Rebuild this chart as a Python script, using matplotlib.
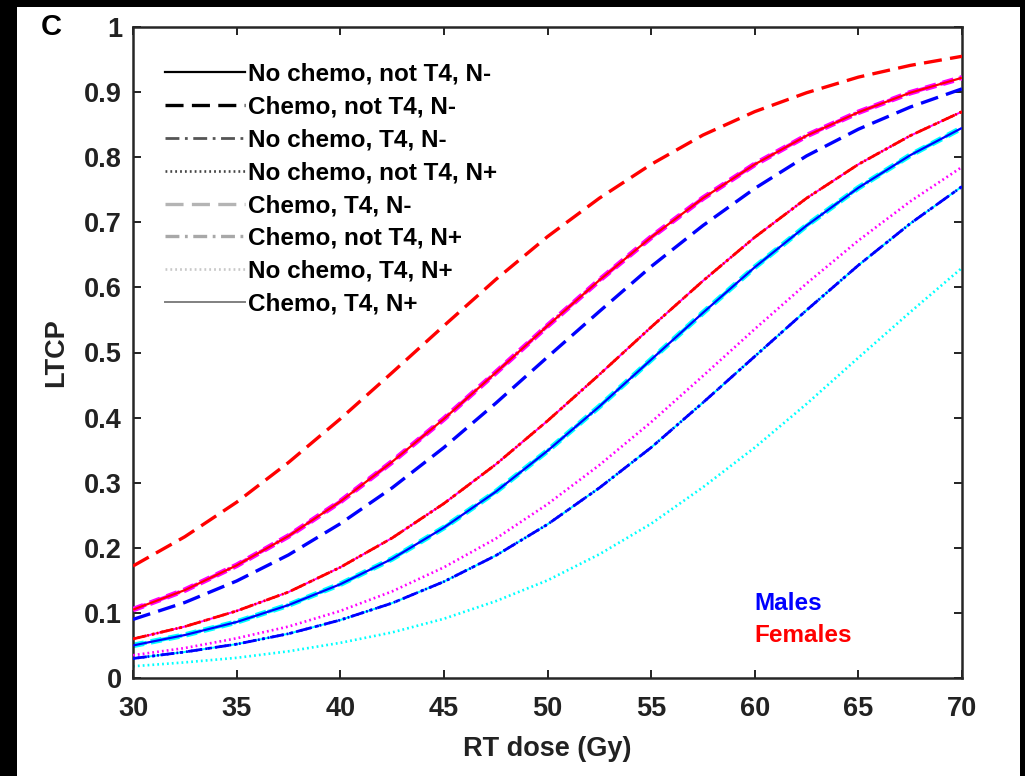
import matplotlib
matplotlib.use('Agg')
import matplotlib.pyplot as plt
from matplotlib.lines import Line2D
from matplotlib.patches import Rectangle

plt.rcParams['font.family'] = ['Liberation Sans', 'DejaVu Sans']
plt.rcParams['font.weight'] = 'bold'
plt.rcParams['lines.scale_dashes'] = False

# RT dose grid (Gy)
dose = [30, 32.5, 35, 37.5, 40, 42.5, 45, 47.5, 50, 52.5, 55, 57.5, 60, 62.5, 65, 67.5, 70]

# LTCP values, one list per visible curve
f_chemo = [0.172, 0.217, 0.270, 0.331, 0.398, 0.469, 0.541, 0.612, 0.678, 0.737, 0.789,
           0.834, 0.870, 0.899, 0.923, 0.941, 0.955]
f_base = [0.105, 0.135, 0.173, 0.218, 0.271, 0.332, 0.398, 0.469, 0.541, 0.611, 0.677,
          0.737, 0.789, 0.833, 0.869, 0.899, 0.922]
m_chemo = [0.090, 0.116, 0.149, 0.189, 0.237, 0.292, 0.354, 0.422, 0.493, 0.563, 0.632,
           0.695, 0.752, 0.802, 0.843, 0.877, 0.905]
f_mid = [0.060, 0.079, 0.103, 0.132, 0.170, 0.215, 0.268, 0.328, 0.395, 0.466, 0.539,
         0.610, 0.677, 0.737, 0.789, 0.833, 0.870]
m_base = [0.050, 0.066, 0.086, 0.112, 0.144, 0.183, 0.231, 0.286, 0.349, 0.417, 0.489,
          0.561, 0.631, 0.695, 0.753, 0.803, 0.845]
f_t4_np = [0.035, 0.046, 0.061, 0.079, 0.103, 0.133, 0.170, 0.214, 0.267, 0.327, 0.393,
           0.464, 0.536, 0.606, 0.672, 0.732, 0.785]
m_mid = [0.030, 0.040, 0.052, 0.068, 0.089, 0.115, 0.148, 0.188, 0.236, 0.292, 0.354,
         0.423, 0.494, 0.565, 0.634, 0.698, 0.755]
m_t4_np = [0.018, 0.024, 0.031, 0.041, 0.054, 0.070, 0.091, 0.118, 0.150, 0.190, 0.237,
           0.293, 0.354, 0.421, 0.492, 0.562, 0.630]

labels = ['No chemo, not T4, N-', 'Chemo, not T4, N-', 'No chemo, T4, N-',
          'No chemo, not T4, N+', 'Chemo, T4, N-', 'Chemo, not T4, N+',
          'No chemo, T4, N+', 'Chemo, T4, N+']
male = [m_base, m_chemo, m_mid, m_mid, m_base, m_base, m_t4_np, m_mid]
female = [f_base, f_chemo, f_mid, f_mid, f_base, f_base, f_t4_np, f_mid]

# line style per group: (dashes, width, dark?)
dash = (13, 6)
dashdot = (10, 4, 2, 4)
dot = (1.3, 2.2)
styles = [
    (None, 1.6, True),
    (dash, 2.4, True),
    (dashdot, 2.0, True),
    (dot, 1.9, True),
    ((8, 5), 4.0, False),
    (dashdot, 2.8, False),
    (dot, 1.9, False),
    (None, 1.4, False),
]
legend_colors = ['black', 'black', '#555555', '#444444', '#b4b4b4', '#a8a8a8', '#c8c8c8', '#808080']

fig = plt.figure(figsize=(10.25, 7.76), dpi=100, facecolor='black')
fig.patches.append(Rectangle((17 / 1025, 0), 1003 / 1025, 769 / 776, transform=fig.transFigure,
                             facecolor='white', edgecolor='none', zorder=-5))
ax = fig.add_axes([133 / 1025, 1 - 678 / 776, 829 / 1025, 651 / 776])
ax.set_zorder(2)

def draw(vals, color, st, z):
    d, lw, _ = st
    ln, = ax.plot(dose, vals, color=color, lw=lw, zorder=z, solid_capstyle='butt')
    if d is not None:
        ln.set_dashes(d)
        ln.set_dash_capstyle('butt')

# light styles first, dark ones on top
order = [4, 5, 6, 7, 0, 1, 2, 3]
for i in order:
    st = styles[i]
    draw(male[i], 'blue' if st[2] else 'cyan', st, 2 + (i < 4))
for i in order:
    st = styles[i]
    draw(female[i], 'red' if st[2] else 'magenta', st, 4 + (i < 4))

ax.set_xlim(30, 70)
ax.set_ylim(0, 1)
ax.set_xticks([30, 35, 40, 45, 50, 55, 60, 65, 70])
ax.set_yticks([0, 0.1, 0.2, 0.3, 0.4, 0.5, 0.6, 0.7, 0.8, 0.9, 1])
ax.set_yticklabels(['0', '0.1', '0.2', '0.3', '0.4', '0.5', '0.6', '0.7', '0.8', '0.9', '1'])
ax.tick_params(direction='in', length=6, width=1.4, top=True, right=True, labelsize=19.5,
               colors='#222222', labelcolor='#222222')
ax.tick_params(axis='x', pad=13)
ax.tick_params(axis='y', pad=8)
for s in ax.spines.values():
    s.set_linewidth(1.8)
    s.set_color('#262626')

ax.set_xlabel('RT dose (Gy)', fontsize=19.5, fontweight='bold', color='#222222')
ax.xaxis.set_label_coords(0.5, -0.089)
ax.set_ylabel('LTCP', fontsize=19.5, fontweight='bold', color='#222222')
ax.yaxis.set_label_coords(-0.077, 0.5)

handles = []
for i in range(8):
    d = styles[i][0]
    h = Line2D([], [], color=legend_colors[i], lw=min(styles[i][1], 2.4))
    if d is not None:
        h.set_dashes(d if i != 4 else dash)
    handles.append(h)
ax.legend(handles, labels, loc='upper left', bbox_to_anchor=(0.038, 0.946), frameon=False,
          borderpad=0, borderaxespad=0, handlelength=3.3, handletextpad=0.12,
          labelspacing=0.41, prop={'size': 17.5, 'weight': 'bold'})

ax.text(60.0, 0.114, 'Males', color='blue', fontsize=17.5, fontweight='bold', va='center')
ax.text(60.0, 0.065, 'Females', color='red', fontsize=17.5, fontweight='bold', va='center')
fig.text(51 / 1025, 1 - 27 / 776, 'C', fontsize=21, fontweight='bold', ha='center', va='center')

fig.savefig('out.png', dpi=100, facecolor='black')
